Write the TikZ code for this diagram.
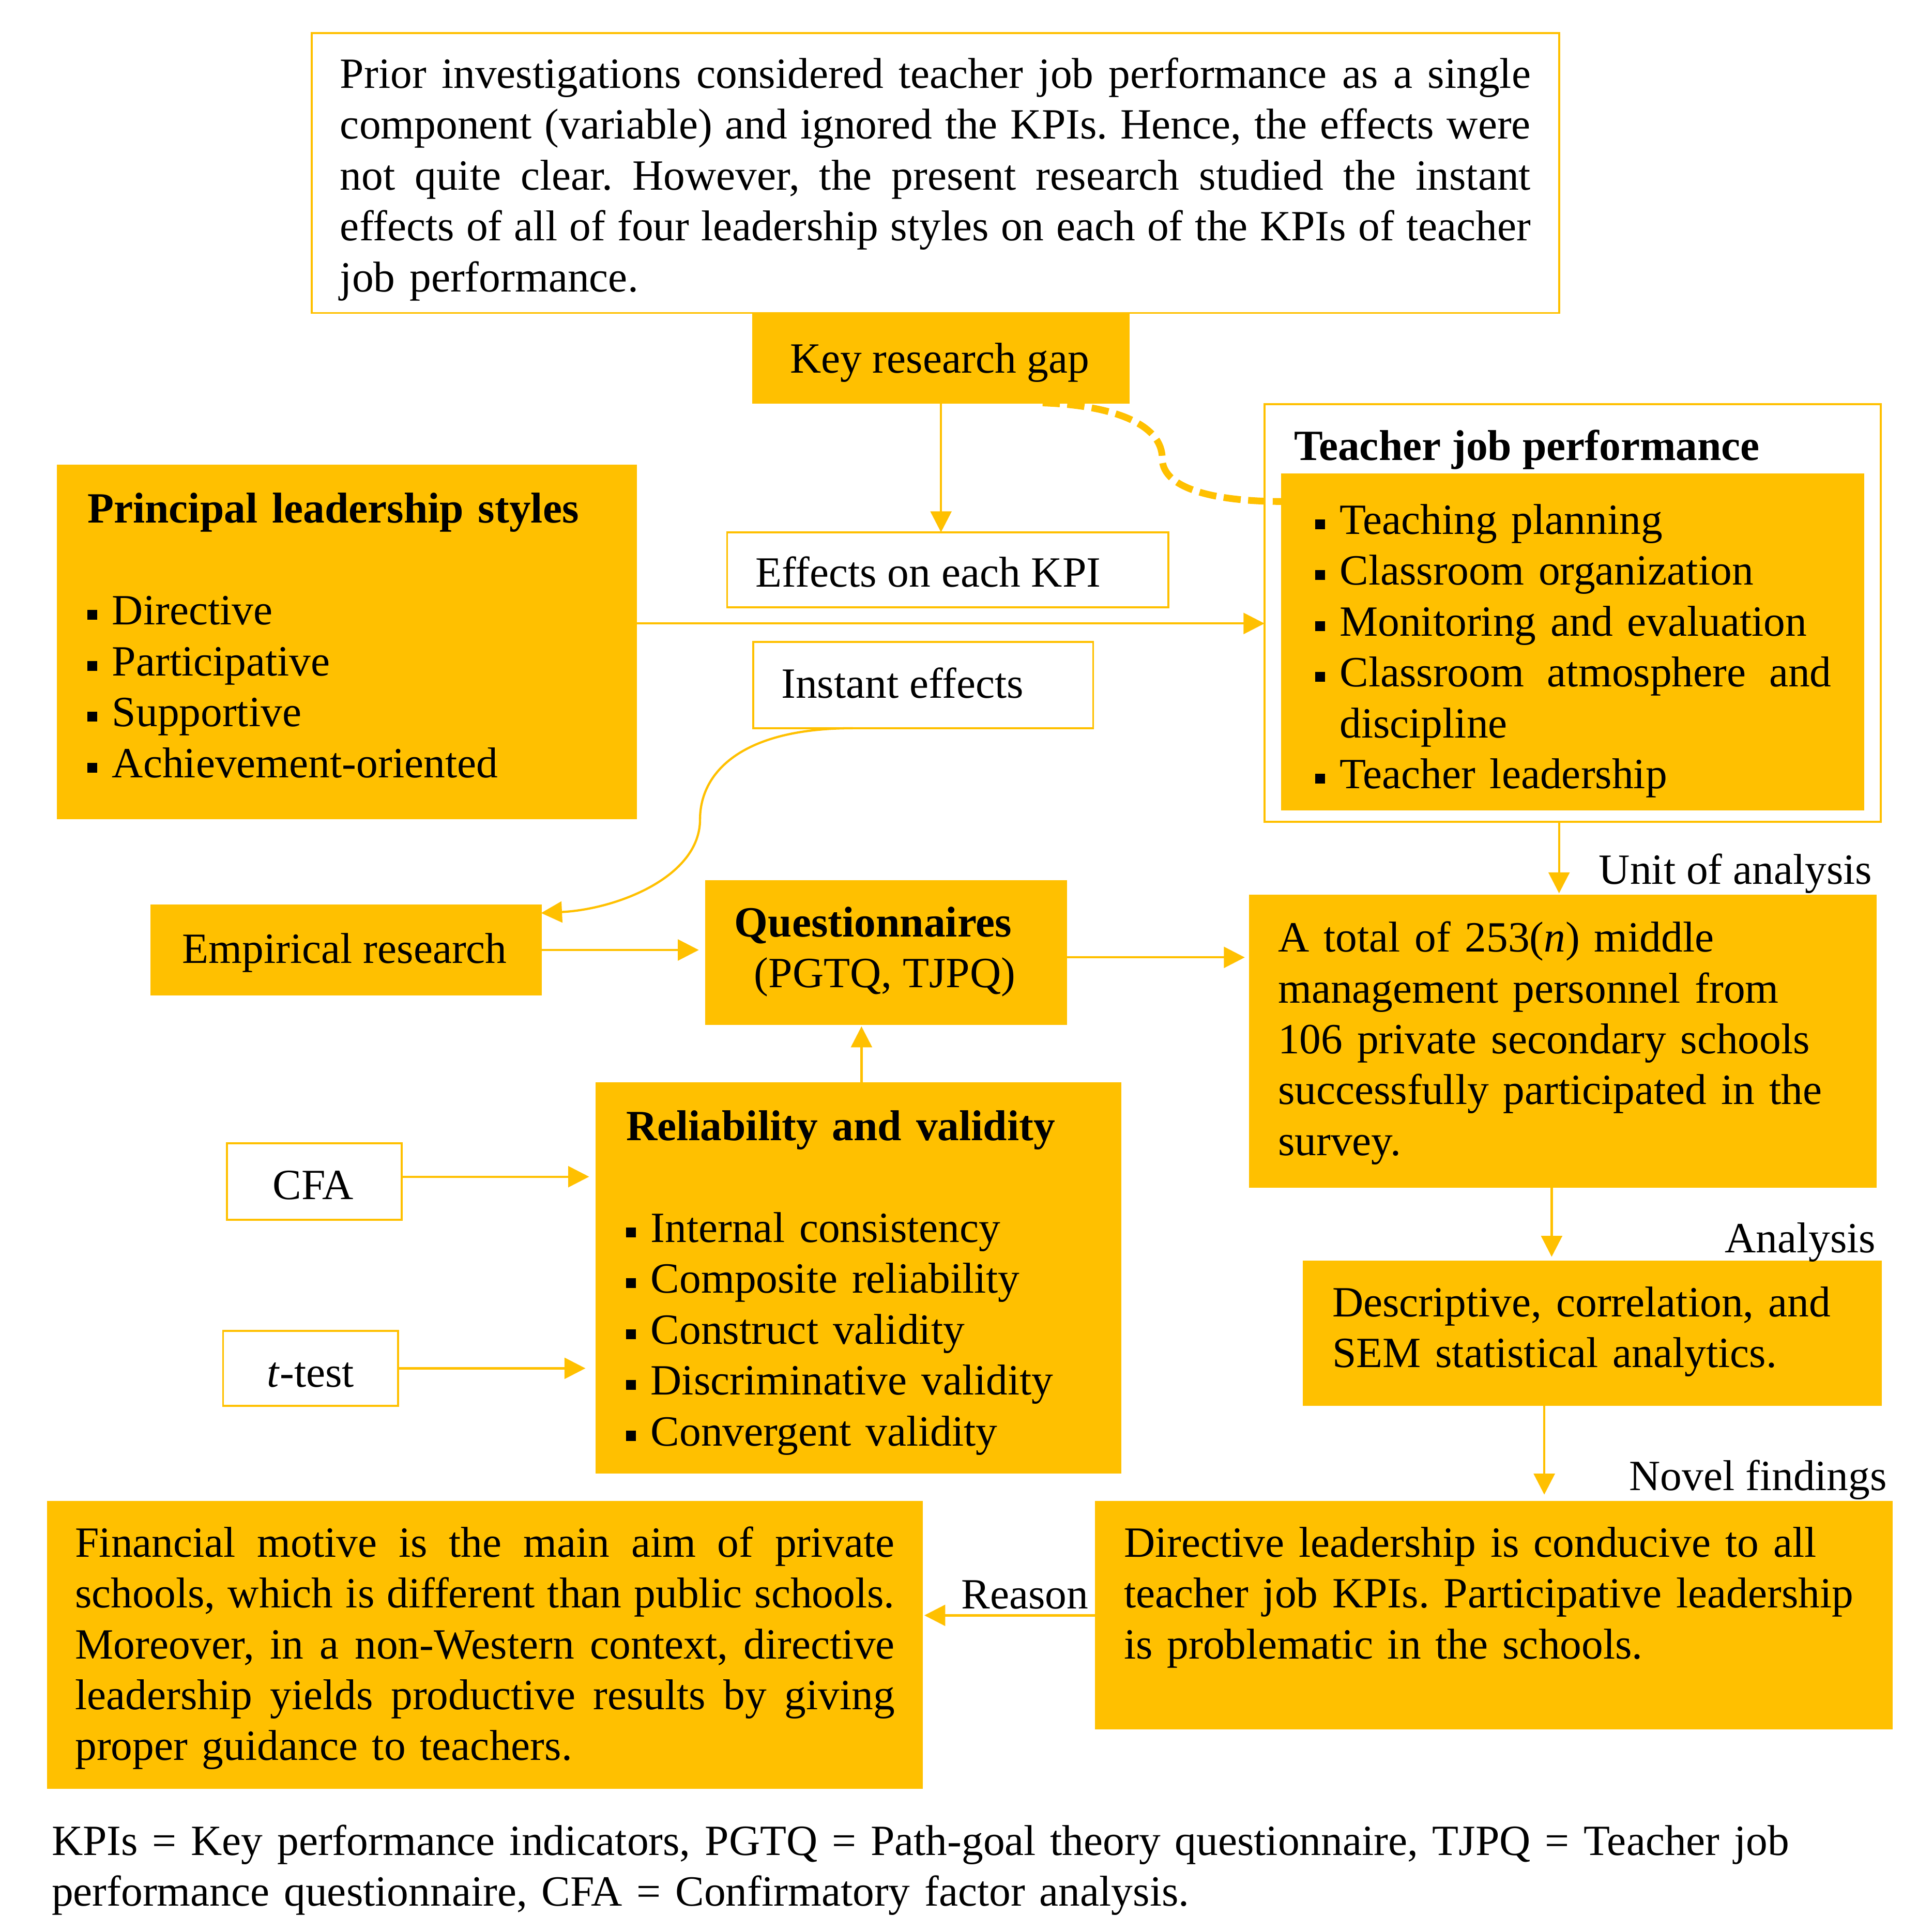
\documentclass[tikz,border=0pt]{standalone}
\usepackage{fontspec}
\setmainfont{Liberation Serif}
\usetikzlibrary{arrows.meta,fit}
\definecolor{gold}{HTML}{FFC000}
\frenchspacing
\newcommand\jl[2]{{\spaceskip=0pt\xspaceskip=0pt\makebox[#1][s]{#2}}}
\newcommand\bul{\makebox[20pt][l]{\rule[4pt]{8pt}{8pt}}}
\tikzset{
 fbox/.style={fill=gold, draw=gold, line width=1.5pt, inner sep=0pt, outer sep=0pt},
 wbox/.style={fill=white, draw=gold, line width=1.6pt, inner sep=0pt, outer sep=0pt},
 txt/.style={inner sep=0pt, outer sep=0pt, anchor=base west, yshift=-2.5pt},
 conn/.style={draw=gold, line width=1.8pt, -{Triangle[length=17pt,width=17pt]}},
 dashconn/.style={draw=gold, line width=5.5pt, dash pattern=on 14pt off 6pt},
}
\begin{document}
\begin{tikzpicture}[x=1pt,y=-1pt, font=\fontsize{35}{41.3}\selectfont\frenchspacing]
\useasboundingbox (0,0) rectangle (1556,1568);
\fill[white] (0,0) rectangle (1556,1568);

% boxes
\node[wbox, fit={(253,27)(1265,254)}] (top) {};
\node[fbox, fit={(611,255)(916,327)}] (krg) {};
\node[wbox, fit={(590,432)(948,493)}] (eff) {};
\node[fbox, fit={(47,378)(516,664)}] (pls) {};
\node[wbox, fit={(611,521)(887,591)}] (ins) {};
\node[wbox, fit={(1026,328)(1526,667)}] (tjpo) {};
\node[fbox, fit={(1040,385)(1512,657)}] (tjpi) {};
\node[fbox, fit={(1014,727)(1522,963)}] (total) {};
\node[fbox, fit={(123,735)(439,807)}] (emp) {};
\node[fbox, fit={(573,715)(865,831)}] (q) {};
\node[fbox, fit={(484,879)(909,1195)}] (rel) {};
\node[wbox, fit={(184,928)(326,990)}] (cfa) {};
\node[wbox, fit={(181,1080)(323,1141)}] (tt) {};
\node[fbox, fit={(1058,1024)(1526,1140)}] (desc) {};
\node[fbox, fit={(889,1219)(1535,1403)}] (dir) {};
\node[fbox, fit={(39,1219)(748,1451)}] (fin) {};

% texts
\node[txt, text width=970pt] (toptxt) at (276,69) {\jl{966pt}{Prior investigations considered teacher job performance as a single}\\
\jl{966pt}{component (variable) and ignored the KPIs. Hence, the effects were}\\
\jl{966pt}{not quite clear. However, the present research studied the instant}\\
\jl{966pt}{effects of all of four leadership styles on each of the KPIs of teacher}\\
job performance.};
\node[txt] (krgtxt) at (641,300) {Key research gap};
\node[txt] (efftxt) at (613,474) {Effects on each KPI};
\node[txt] (instxt) at (634,564) {Instant effects};
\node[txt, text width=440pt] (plstxt) at (71,422) {\textbf{Principal leadership styles}\\[41.3pt]
\bul Directive\\ \bul Participative\\ \bul Supportive\\ \bul Achievement-oriented};
\node[txt] (tjptitle) at (1050,371) {\textbf{Teacher job performance}};
\node[txt, text width=440pt] (tjpitems) at (1067,431) {\bul Teaching planning\\
\bul Classroom organization\\
\bul Monitoring and evaluation\\
\bul \jl{399pt}{Classroom atmosphere and}\\
\hspace*{20pt}discipline\\
\bul Teacher leadership};
\node[txt, anchor=base east] (ulab) at (1519,715) {Unit of analysis};
\node[txt, text width=480pt] (totaltxt) at (1037,770) {A total of 253(\textit{n}) middle\\
management personnel from\\
106 private secondary schools\\
successfully participated in the\\
survey.};
\node[txt] (emptxt) at (148,779) {Empirical research};
\node[txt] (qtxt1) at (596,758) {\textbf{Questionnaires}};
\node[txt] (qtxt2) at (612,799) {(PGTQ, TJPQ)};
\node[txt, text width=400pt] (reltxt) at (508,923) {\textbf{Reliability and validity}\\[41.3pt]
\bul Internal consistency\\
\bul Composite reliability\\
\bul Construct validity\\
\bul Discriminative validity\\
\bul Convergent validity};
\node[txt, anchor=base] (cfatxt) at (254,971) {CFA};
\node[txt, anchor=base] (tttxt) at (252,1123) {\textit{t}-test};
\node[txt, anchor=base east] (alab) at (1522,1014) {Analysis};
\node[txt, text width=440pt] (desctxt) at (1081,1066) {Descriptive, correlation, and\\ SEM statistical analytics.};
\node[txt, anchor=base east] (nlab) at (1531,1207) {Novel findings};
\node[txt, text width=620pt] (dirtxt) at (912,1261) {Directive leadership is conducive to all\\
teacher job KPIs. Participative leadership\\
is problematic in the schools.};
\node[txt, text width=670pt] (fintxt) at (61,1261) {\jl{665pt}{Financial motive is the main aim of private}\\
\jl{665pt}{schools, which is different than public schools.}\\
\jl{665pt}{Moreover, in a non-Western context, directive}\\
\jl{665pt}{leadership yields productive results by giving}\\
proper guidance to teachers.};
\node[txt] (rlab) at (780,1303) {Reason};
\node[txt, text width=1500pt] (foot) at (42,1503) {KPIs = Key performance indicators, PGTQ = Path-goal theory questionnaire, TJPQ = Teacher job\\
performance questionnaire, CFA = Confirmatory factor analysis.};

% connectors
\draw[conn] (krg.south) -- (krg.south |- eff.north);
\draw[conn] ([yshift=15pt]pls.east) -- ([yshift=15pt]pls.east -| tjpo.west);
\draw[conn] ([xshift=-57pt]ins.south) .. controls (600,591) and (568,628) .. (568,665)
  .. controls (568,712) and (500,738) .. ([yshift=-6pt]emp.north east);
\draw[conn] (emp.east) -- ([xshift=-6pt]emp.east -| q.west);
\draw[conn] ([yshift=-4pt]q.east) -- ([yshift=-4pt,xshift=-4pt]q.east -| total.west);
\draw[conn] ([xshift=2.5pt]rel.north) -- ([xshift=2.5pt,yshift=-2pt]rel.north |- q.south);
\draw[conn] ([yshift=4pt]cfa.east) -- ([yshift=4pt,xshift=-6pt]cfa.east -| rel.west);
\draw[conn] (tt.east) -- ([xshift=-9pt]tt.east -| rel.west);
\draw[conn] ([xshift=-11pt]tjpo.south) -- ([xshift=-11pt,yshift=2pt]tjpo.south |- total.north);
\draw[conn] ([xshift=-9pt]total.south) -- ([xshift=-9pt,yshift=4pt]total.south |- desc.north);
\draw[conn] ([xshift=-39pt]desc.south) -- ([xshift=-39pt,yshift=6pt]desc.south |- dir.north);
\draw[conn] (dir.west) -- ([xshift=2pt]dir.west -| fin.east);
\draw[dashconn] ([xshift=-70pt]krg.south east) .. controls (905,329) and (943,345) .. (943,372)
  .. controls (943,398) and (990,407) .. ([yshift=-22pt]tjpi.north west);
\end{tikzpicture}
\end{document}
